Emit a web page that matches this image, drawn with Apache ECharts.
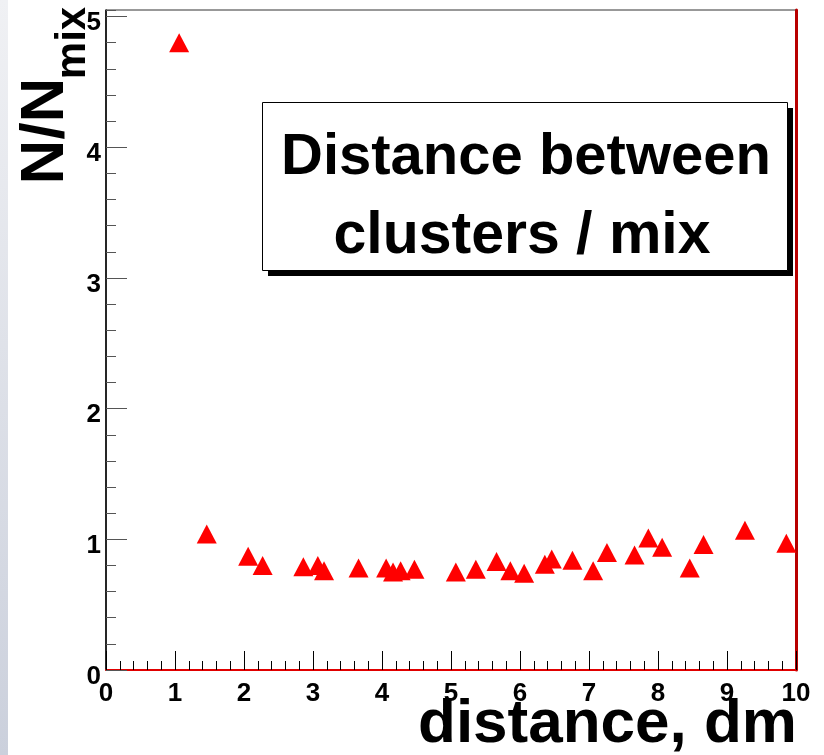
<!DOCTYPE html>
<html>
<head>
<meta charset="utf-8">
<script src="https://cdn.jsdelivr.net/npm/echarts@6/dist/echarts.min.js"></script>
<style>html,body{margin:0;padding:0;background:#fff;}#c{width:824px;height:755px;}</style>
</head>
<body>
<div id="c"></div>
<script>
// distance (dm) of each point
var distances = [1.06,1.46,2.06,2.27,2.86,3.07,3.16,3.66,4.06,4.16,4.27,4.47,5.07,5.36,5.66,5.86,6.06,6.36,6.46,6.76,7.06,7.26,7.66,7.86,8.06,8.46,8.66,9.26,9.86];
// N/Nmix ratio
var ratios = [4.80,1.04,0.87,0.80,0.79,0.80,0.76,0.78,0.78,0.75,0.76,0.77,0.75,0.77,0.83,0.76,0.74,0.81,0.85,0.84,0.76,0.90,0.88,1.01,0.94,0.78,0.96,1.07,0.97];
var legendLines = ['Distance between', 'clusters / mix'];
var xTitle = 'distance, dm';
var yTitleMain = 'N/N';
var yTitleSub = 'mix';

var FONT = '"Liberation Sans", Arial, Helvetica, sans-serif';
var data = distances.map(function (d, i) { return [d, ratios[i]]; });

var chart = echarts.init(document.getElementById('c'), null, {renderer: 'canvas'});
chart.setOption({
  animation: false,
  backgroundColor: '#ffffff',
  grid: {left: 106, right: 28, top: 10, bottom: 85, show: true, borderColor: '#333', borderWidth: 1, backgroundColor: 'transparent'},
  xAxis: [{
    type: 'value', min: 0, max: 10, interval: 1,
    axisLine: {show: true, onZero: false, lineStyle: {color: '#e00000', width: 2}},
    axisTick: {show: true, inside: true, length: 19, lineStyle: {color: '#000', width: 1}},
    minorTick: {show: true, splitNumber: 5, length: 9, lineStyle: {color: '#000', width: 1}},
    splitLine: {show: false},
    axisLabel: {color: '#000', fontWeight: 'bold', fontSize: 26, fontFamily: FONT, margin: 11}
  }],
  yAxis: [{
    type: 'value', min: 0, max: 5.05, interval: 1, position: 'left',
    axisLine: {show: true, onZero: false, lineStyle: {color: '#000', width: 1.5}},
    axisTick: {show: true, inside: true, length: 21, lineStyle: {color: '#555', width: 1}},
    splitLine: {show: false},
    axisLabel: {color: '#000', fontWeight: 'bold', fontSize: 26, fontFamily: FONT, margin: 5, verticalAlign: 'top', lineHeight: 13, showMaxLabel: false,
      formatter: function (v) { return (Math.abs(v - Math.round(v)) < 1e-6) ? String(Math.round(v)) : ''; }}
  }, {
    type: 'value', min: 0, max: 5.05, interval: 0.2, position: 'left',
    axisLine: {show: false},
    axisTick: {show: true, inside: true, length: 10, lineStyle: {color: '#555', width: 1}},
    splitLine: {show: false},
    axisLabel: {show: false}
  }, {
    type: 'value', min: 0, max: 5.05, position: 'right',
    axisLine: {show: true, onZero: false, lineStyle: {color: '#b80000', width: 3}},
    axisTick: {show: false}, splitLine: {show: false}, axisLabel: {show: false}
  }],
  series: [{
    type: 'scatter', xAxisIndex: 0, yAxisIndex: 0,
    symbol: 'triangle', symbolSize: [20, 19],
    itemStyle: {color: '#ff0000', opacity: 1},
    data: data
  }],
  graphic: [
    {type: 'rect', left: 0, top: 0, z: -10, shape: {x: 0, y: 0, width: 8, height: 755},
      style: {fill: new echarts.graphic.LinearGradient(0, 0, 0, 1, [{offset: 0, color: '#f0f1f4'}, {offset: 1, color: '#cbd0dc'}])}},
    {type: 'rect', z: 50, shape: {x: 268, y: 108, width: 525, height: 168}, style: {fill: '#000'}},
    {type: 'rect', z: 51, shape: {x: 262.5, y: 102.5, width: 525, height: 168}, style: {fill: '#fff', stroke: '#000', lineWidth: 1}},
    {type: 'text', z: 52, style: {text: legendLines[0], x: 526, y: 158, textAlign: 'center', textVerticalAlign: 'middle', font: 'bold 58px ' + FONT, fill: '#000'}},
    {type: 'text', z: 52, style: {text: legendLines[1], x: 522, y: 237, textAlign: 'center', textVerticalAlign: 'middle', font: 'bold 59px ' + FONT, fill: '#000'}},
    {type: 'text', z: 52, style: {text: xTitle, x: 797, y: 725, textAlign: 'right', textVerticalAlign: 'middle', font: 'bold 62px ' + FONT, fill: '#000'}},
    {type: 'text', z: 52, x: 45.5, y: 131, rotation: Math.PI / 2, style: {text: yTitleMain, x: 0, y: 0, textAlign: 'center', textVerticalAlign: 'middle', font: 'bold 62px ' + FONT, fill: '#000'}},
    {type: 'text', z: 52, x: 73, y: 43, rotation: Math.PI / 2, style: {text: yTitleSub, x: 0, y: 0, textAlign: 'center', textVerticalAlign: 'middle', font: 'bold 42px ' + FONT, fill: '#000'}}
  ]
});
</script>
</body>
</html>
